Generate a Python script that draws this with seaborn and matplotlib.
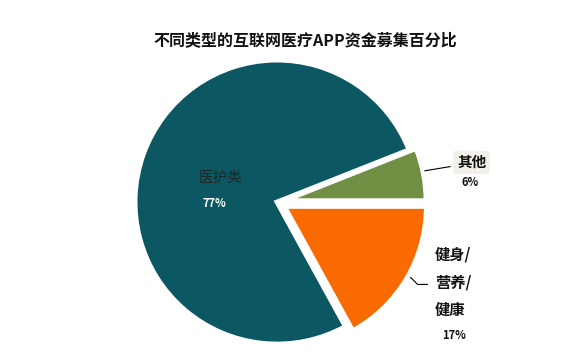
import seaborn as sns
import matplotlib.pyplot as plt

# data
labels = ["其他", "医护类", "健身/\n营养/\n健康"]
shares = [6, 77, 17]
colors = ["#708f42", "#0c5862", "#fa6a02"]
explode = [0.05, 0, 0.06]

sns.set_theme(style="white")
plt.rcParams["font.family"] = ["Noto Sans CJK SC", "DejaVu Sans"]

fig = plt.figure(figsize=(5.67, 3.54), dpi=100)
ax = fig.add_axes([0, 0, 1, 1])

wedges, _ = ax.pie(shares, colors=sns.color_palette(colors), explode=explode,
                   startangle=0, counterclock=True,
                   wedgeprops=dict(edgecolor="white", linewidth=3.5))
ax.set_aspect("auto")
ax.set_xlim(-1.951, 2.042)
ax.set_ylim(-1.070, 1.423)
ax.axis("off")

# labels
ax.text(-0.40, 0.17, labels[1], ha="center", va="center", fontsize=10.5, color="#1c2828")
ax.text(-0.44, -0.01, f"{shares[1]}%", ha="center", va="center", fontsize=8,
        fontweight="bold", color="white")

ax.text(1.37, 0.28, labels[0], ha="center", va="center", fontsize=10.5,
        fontweight="bold", color="#111111",
        bbox=dict(boxstyle="round,pad=0.25", fc="#f3efe9", ec="none"))
ax.text(1.36, 0.14, f"{shares[0]}%", ha="center", va="center", fontsize=8,
        fontweight="bold", color="#111111")
ax.plot([1.04, 1.22], [0.22, 0.25], color="black", lw=0.8)

for i, part in enumerate(labels[2].split("\n")):
    ax.text(1.11, -0.37 - 0.195 * i, part, ha="left", va="center", fontsize=11,
            fontweight="bold", color="#111111")
ax.text(1.25, -0.94, f"{shares[2]}%", ha="center", va="center", fontsize=8,
        fontweight="bold", color="#111111")
ax.plot([0.94, 0.99, 1.06], [-0.53, -0.58, -0.58], color="black", lw=0.8)

fig.text(0.538, 0.887, "不同类型的互联网医疗APP资金募集百分比", ha="center", va="center",
         fontsize=11.5, fontweight="bold", color="#111111")

fig.savefig("out.png", dpi=100)
